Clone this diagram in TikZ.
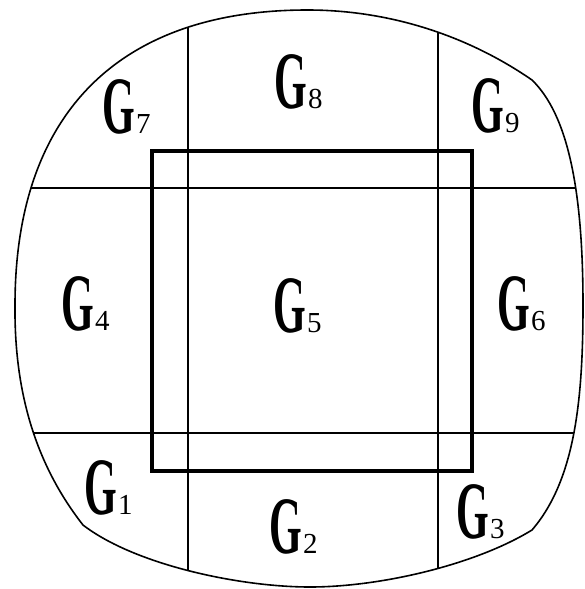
\documentclass[tikz,border=0pt]{standalone}
\usepackage{fontspec}
\usepackage{graphicx}
\setmainfont{Liberation Serif}
\newcommand{\outlinepath}{(307.5,10)
  .. controls (387.6,10) and (466.1,34.5) .. (532,80)
  .. controls (568,115) and (583,190) .. (583,305)
  .. controls (583,400) and (575,480) .. (532,530)
  .. controls (475,565) and (380,587) .. (310,587)
  .. controls (240,587) and (135,565) .. (83,525)
  .. controls (40,470) and (14,400) .. (15,305)
  .. controls (15,115) and (117.5,10) .. (307.5,10) -- cycle}
\newcommand{\glab}[1]{\scalebox{1}[1.94]{\fontsize{42}{42}\selectfont\bfseries G}\kern1.5pt{\fontsize{29}{29}\selectfont #1}}
\tikzset{
  outer/.style={line width=1.6pt},
  gridline/.style={line width=1.5pt},
  innerbox/.style={line width=3.2pt},
  lab/.style={anchor=base west, inner sep=0pt, outer sep=0pt}
}
\begin{document}
\begin{tikzpicture}[x=1pt,y=-1pt]
\useasboundingbox (0,0) rectangle (585,589);
\coordinate (v1t) at (188,-10); \coordinate (v1b) at (188,600);
\coordinate (v2t) at (438,-10); \coordinate (v2b) at (438,600);
\coordinate (h1l) at (-10,188); \coordinate (h1r) at (600,188);
\coordinate (h2l) at (-10,433); \coordinate (h2r) at (600,433);
\begin{scope}
  \clip \outlinepath;
  \draw[gridline] (v1t) -- (v1b);
  \draw[gridline] (v2t) -- (v2b);
  \draw[gridline] (h1l) -- (h1r);
  \draw[gridline] (h2l) -- (h2r);
\end{scope}
\draw[outer] \outlinepath;
\draw[innerbox] (152,151) rectangle (472,471);
\node[lab] (g7) at (102,133) {\glab{7}};
\node[lab] (g8) at (274,108) {\glab{8}};
\node[lab] (g9) at (471,132) {\glab{9}};
\node[lab] (g4) at (61,330) {\glab{4}};
\node[lab] (g5) at (273,332) {\glab{5}};
\node[lab] (g6) at (497,330) {\glab{6}};
\node[lab] (g1) at (84,514) {\glab{1}};
\node[lab] (g2) at (269,553) {\glab{2}};
\node[lab] (g3) at (456,538) {\glab{3}};
\end{tikzpicture}
\end{document}
